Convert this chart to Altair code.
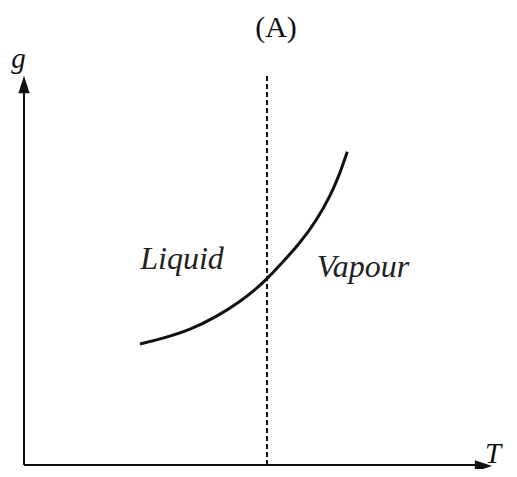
import altair as alt
import pandas as pd

# Curve g(T) (arbitrary units, origin at the axes' corner)
curve_T = [116, 139.3, 166, 192.7, 216, 232.7, 242.7, 256, 276, 292.7, 306, 316, 323.3]
curve_g = [121, 126.7, 135, 148.3, 163.3, 176.7, 185.7, 200, 221.7, 245, 268.3, 291.7, 313.3]

# Transition temperature (dashed line)
T_transition = 243
dash_top = 390

# Axis extents
x_axis_end = 452
y_axis_end = 372

labels_text = ["Liquid", "Vapour"]
labels_T = [158, 339]
labels_g = [196, 188]

xs = alt.Scale(domain=[-16, 485], nice=False, zero=False)
ys = alt.Scale(domain=[-4, 457], nice=False, zero=False)

def X(f="T"):
    return alt.X(f"{f}:Q", scale=xs, axis=None)

def Y(f="g"):
    return alt.Y(f"{f}:Q", scale=ys, axis=None)

curve_df = pd.DataFrame({"T": curve_T, "g": curve_g})
curve = alt.Chart(curve_df).mark_line(color="#111111", strokeWidth=3, interpolate="basis").encode(
    x=X(), y=Y(), order="T:Q")

dash_df = pd.DataFrame({"T": [T_transition], "g": [0], "g2": [dash_top]})
dash = alt.Chart(dash_df).mark_rule(color="#111111", strokeWidth=2, strokeDash=[5, 3]).encode(
    x=X(), y=Y(), y2="g2:Q")

axes_df = pd.DataFrame({"T": [0, 0], "T2": [x_axis_end, 0], "g": [0, 0], "g2": [0, y_axis_end]})
axes = alt.Chart(axes_df).mark_rule(color="#111111", strokeWidth=2).encode(
    x=X(), x2="T2:Q", y=Y(), y2="g2:Q")

arrow_up = alt.Chart(pd.DataFrame({"T": [0], "g": [380.5]})).mark_point(
    shape="M0,-1L0.65,1L-0.65,1Z", size=300, filled=True, color="#111111", opacity=1).encode(x=X(), y=Y())
arrow_right = alt.Chart(pd.DataFrame({"T": [459.5], "g": [-1]})).mark_point(
    shape="M1,0L-1,0.65L-1,-0.65Z", size=300, filled=True, color="#111111", opacity=1).encode(x=X(), y=Y())

lab_df = pd.DataFrame({"text": labels_text, "T": labels_T, "g": labels_g})
labels = alt.Chart(lab_df).mark_text(font="Liberation Serif", fontStyle="italic", fontSize=32,
                                     baseline="alphabetic", align="center", color="#222222").encode(
    x=X(), y=Y(), text="text:N")

ax_df = pd.DataFrame({"text": ["g", "T"], "T": [-5.5, 469], "g": [397, 2]})
ax_labels = alt.Chart(ax_df).mark_text(font="Liberation Serif", fontStyle="italic", fontSize=29,
                                       baseline="alphabetic", align="center", color="#111111").encode(
    x=X(), y=Y(), text="text:N")

title_df = pd.DataFrame({"text": ["(A)"], "T": [252], "g": [428]})
title = alt.Chart(title_df).mark_text(font="Liberation Serif", fontSize=30,
                                      baseline="alphabetic", align="center", color="#111111").encode(
    x=X(), y=Y(), text="text:N")

chart = alt.layer(axes, dash, curve, arrow_up, arrow_right, labels, ax_labels, title).properties(
    width=501, height=461, padding=0, autosize=alt.AutoSizeParams(type="none")
).configure_view(stroke=None)

chart.save("out.html", embed_options={"renderer": "svg", "actions": False})
